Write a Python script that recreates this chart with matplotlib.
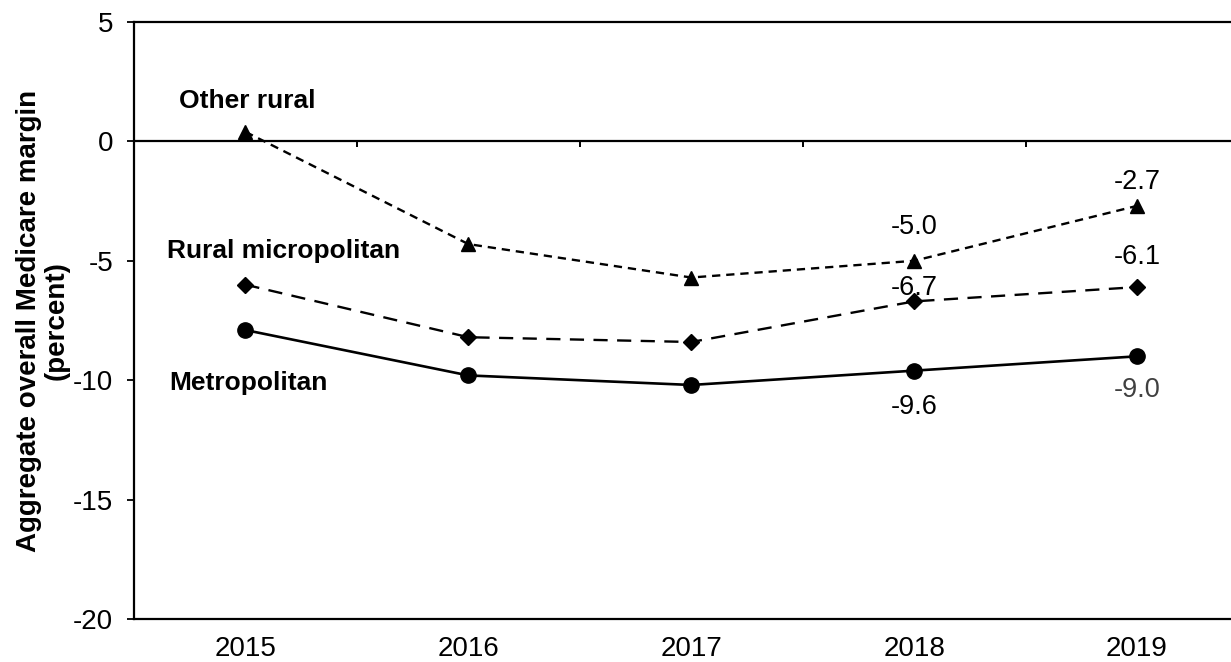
import matplotlib
matplotlib.use("Agg")
import matplotlib.pyplot as plt

plt.rcParams['font.family'] = ['Liberation Sans', 'DejaVu Sans']

years = ["2015", "2016", "2017", "2018", "2019"]
other_rural = [0.4, -4.3, -5.7, -5.0, -2.7]
rural_micro = [-6.0, -8.2, -8.4, -6.7, -6.1]
metro = [-7.9, -9.8, -10.2, -9.6, -9.0]
yticks = [5, 0, -5, -10, -15, -20]

fig = plt.figure(figsize=(12.31, 6.62), dpi=100)
W, H = 1231, 662
left, right, top, bottom = 134, 1248.5, 22, 619
ax = fig.add_axes([left / W, 1 - bottom / H, (right - left) / W, (bottom - top) / H])

x = list(range(len(years)))
ax.plot(x, other_rural, color='black', lw=1.7, ls=(0, (3.5, 2.5)), marker='^', ms=10, clip_on=False)
ax.plot(x, rural_micro, color='black', lw=1.7, ls=(0, (6, 4)), marker='D', ms=8)
ax.plot(x, metro, color='black', lw=1.9, ls='-', marker='o', ms=11)

ax.set_xlim(-0.5, 4.5)
ax.set_ylim(-20, 5)
ax.set_yticks(yticks)
ax.set_yticklabels([str(v) for v in yticks])
ax.set_xticks(x)
ax.set_xticklabels(years)
ax.tick_params(axis='x', length=0, pad=12, labelsize=20)
ax.tick_params(axis='y', direction='out', length=5, width=1.3, pad=10, labelsize=20)
for s in ax.spines.values():
    s.set_linewidth(1.6)
ax.spines['right'].set_visible(False)

# zero line with category boundary ticks
ax.axhline(0, color='black', lw=1.6)
ax.vlines([0.5, 1.5, 2.5, 3.5], 0, -0.25, color='black', lw=1.4)

# data labels
lab = dict(fontsize=19.5, ha='center', va='center')
ax.annotate(f"{other_rural[3]:.1f}", (3, other_rural[3]), xytext=(0, 24), textcoords='offset points', **lab)
ax.annotate(f"{other_rural[4]:.1f}", (4, other_rural[4]), xytext=(0, 17), textcoords='offset points', **lab)
ax.annotate(f"{rural_micro[3]:.1f}", (3, rural_micro[3]), xytext=(0, 10), textcoords='offset points', **lab)
ax.annotate(f"{rural_micro[4]:.1f}", (4, rural_micro[4]), xytext=(0, 21.5), textcoords='offset points', **lab)
ax.annotate(f"{metro[3]:.1f}", (3, metro[3]), xytext=(0, -26.5), textcoords='offset points', **lab)
ax.annotate(f"{metro[4]:.1f}", (4, metro[4]), xytext=(0, -24), textcoords='offset points', color='#404040', **lab)

# series labels
sl = dict(fontsize=19, fontweight='bold', ha='left', va='center')
ax.text(-0.3, 1.7, "Other rural", **sl)
ax.text(-0.35, -4.6, "Rural micropolitan", **sl)
ax.text(-0.34, -10.1, "Metropolitan", **sl)

ax.set_ylabel("Aggregate overall Medicare margin\n(percent)", fontsize=20, fontweight='bold',
              labelpad=2.5, linespacing=1.05)

fig.savefig("out.png", dpi=100)
